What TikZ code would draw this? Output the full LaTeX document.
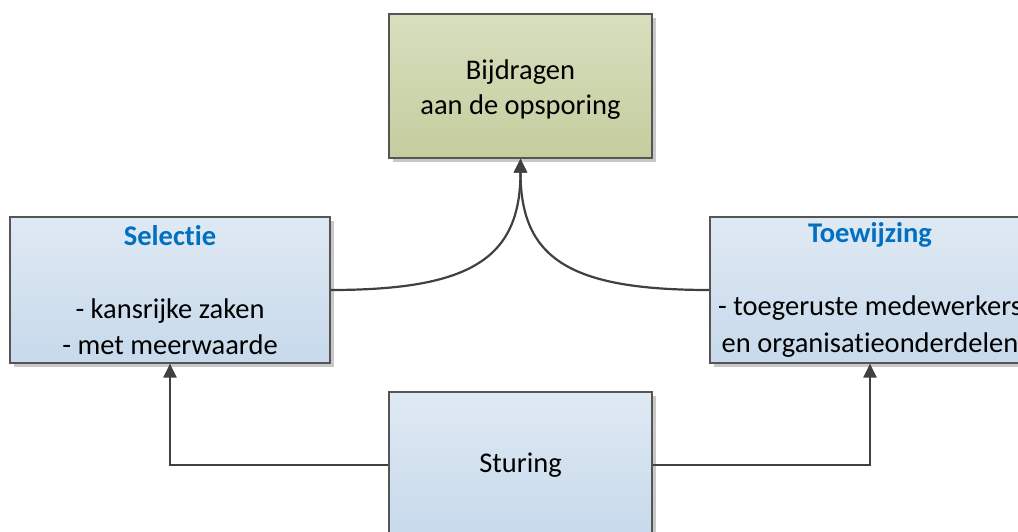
\documentclass[tikz,border=0pt]{standalone}
\usepackage{fontspec}
\setmainfont{Carlito}[RawFeature=-liga]
\usetikzlibrary{shadows,arrows.meta}
\definecolor{greentop}{RGB}{216,223,190}
\definecolor{greenbot}{RGB}{196,205,158}
\definecolor{bluetop}{RGB}{223,233,243}
\definecolor{bluebot}{RGB}{199,217,235}
\definecolor{boxline}{RGB}{85,85,85}
\definecolor{conncol}{RGB}{64,64,64}
\definecolor{titleblue}{RGB}{0,112,192}
\definecolor{shadowgray}{RGB}{200,200,200}
\tikzset{
  boxbase/.style={rectangle, draw=boxline, line width=1.2pt, inner sep=0pt, align=center,
    font=\fontsize{28.5}{35}\selectfont,
    general shadow={shadow xshift=4pt, shadow yshift=-4pt, fill=shadowgray}},
  greenbox/.style={boxbase, top color=greentop, bottom color=greenbot},
  bluebox/.style={boxbase, top color=bluetop, bottom color=bluebot},
  conn/.style={draw=conncol, line width=2.2pt, -{Triangle[length=14pt,width=13pt]}}
}
\begin{document}
\begin{tikzpicture}[x=1pt,y=-1pt]
\path[use as bounding box, clip] (0,0) rectangle (1018,532);
\node[greenbox, minimum width=263pt, minimum height=144pt] (top) at (520.5,86)
  {\rule{0pt}{26pt}Bijdragen\\aan de opsporing};
\node[bluebox, minimum width=320pt, minimum height=146pt, font=\fontsize{28.5}{36.5}\selectfont] (sel) at (170,290)
  {{\bfseries\color{titleblue}Selectie}\\ \\- kansrijke zaken\\- met meerwaarde};
\node[bluebox, minimum width=320pt, minimum height=146pt, font=\fontsize{28.5}{36.5}\selectfont] (toe) at (870,290)
  {{\bfseries\color{titleblue}Toewijzing}\\ \\- toegeruste medewerkers\\en organisatieonderdelen};
\node[bluebox, minimum width=263pt, minimum height=146pt] (stu) at (520.5,465) {Sturing};
\draw[conn] (sel.east) .. controls +(140,0) and +(0,100) .. (top.south);
\draw[conn] (toe.west) .. controls +(-140,0) and +(0,100) .. (top.south);
\draw[conn] (stu.west) -| (sel.south);
\draw[conn] (stu.east) -| (toe.south);
\end{tikzpicture}
\end{document}
